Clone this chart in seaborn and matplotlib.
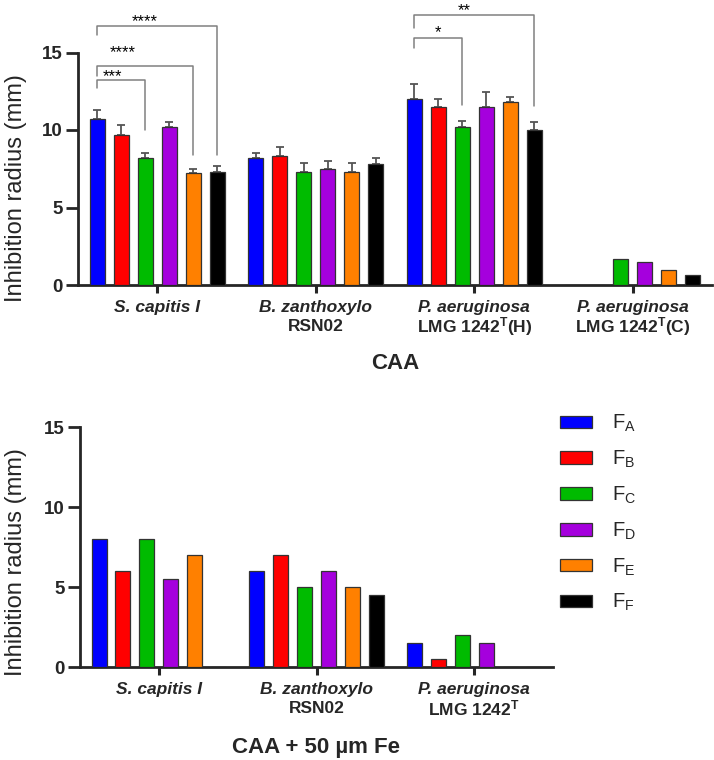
import numpy as np
import pandas as pd
import matplotlib
matplotlib.use("Agg")
import matplotlib.pyplot as plt
import seaborn as sns

# ---------------- data ----------------
formulations = ["F$_\\mathregular{A}$", "F$_\\mathregular{B}$", "F$_\\mathregular{C}$",
                "F$_\\mathregular{D}$", "F$_\\mathregular{E}$", "F$_\\mathregular{F}$"]
colors = ["#0000FF", "#FF0000", "#00BB00", "#A500DD", "#FF8000", "#000000"]

top_groups = ["S. capitis I", "B. zanthoxylo RSN02", "P. aeruginosa LMG 1242T(H)", "P. aeruginosa LMG 1242T(C)"]
top_line1 = ["S. capitis I", "B. zanthoxylo", "P. aeruginosa", "P. aeruginosa"]
top_line2 = ["", "RSN02", "LMG 1242$^\\mathbf{T}$(H)", "LMG 1242$^\\mathbf{T}$(C)"]
# values per group (FA..FF)
top_scap = [10.7, 9.7, 8.2, 10.2, 7.2, 7.3]
top_bzan = [8.2, 8.3, 7.3, 7.5, 7.3, 7.8]
top_paeh = [12.0, 11.5, 10.2, 11.5, 11.8, 10.0]
top_paec = [0.0, 0.0, 1.7, 1.5, 0.95, 0.65]
# upper error (SD)
err_scap = [0.6, 0.6, 0.3, 0.3, 0.3, 0.4]
err_bzan = [0.3, 0.6, 0.6, 0.5, 0.6, 0.4]
err_paeh = [0.95, 0.5, 0.35, 0.95, 0.35, 0.5]
err_paec = [0.0, 0.0, 0.0, 0.0, 0.0, 0.0]

bot_groups = ["S. capitis I", "B. zanthoxylo RSN02", "P. aeruginosa LMG 1242T"]
bot_line1 = ["S. capitis I", "B. zanthoxylo", "P. aeruginosa"]
bot_line2 = ["", "RSN02", "LMG 1242$^\\mathbf{T}$"]
bot_scap = [8.0, 6.0, 8.0, 5.5, 7.0, 0.0]
bot_bzan = [6.0, 7.0, 5.0, 6.0, 5.0, 4.5]
bot_pae = [1.5, 0.5, 2.0, 1.5, 0.0, 0.0]

# significance brackets: (group index, from bar, to bar, label, top y, left leg bottom, right leg bottom, text pos fraction, text y)
brackets = [
    (0, 0, 2, "***", 13.2, 12.7, 10.0, 0.32, 13.75),
    (0, 0, 4, "****", 14.1, 13.5, 8.4, 0.27, 15.3),
    (0, 0, 5, "****", 16.7, 16.1, 8.4, 0.40, 17.3),
    (2, 0, 2, "*", 15.95, 15.3, 11.6, 0.50, 16.6),
    (2, 0, 5, "**", 17.4, 16.6, 11.55, 0.42, 18.0),
]

# ---------------- style ----------------
sns.set_theme(style="ticks")
plt.rcParams["font.family"] = ["Liberation Sans", "DejaVu Sans"]
plt.rcParams["mathtext.fontset"] = "custom"
plt.rcParams["mathtext.rm"] = "Liberation Sans"
plt.rcParams["mathtext.bf"] = "Liberation Sans:bold"
plt.rcParams["mathtext.it"] = "Liberation Sans:italic"

fig = plt.figure(figsize=(7.14, 7.6), dpi=100)
ax1 = fig.add_axes([78 / 714, 1 - 285 / 760, 634 / 714, 285 / 760])
ax2 = fig.add_axes([80 / 714, 1 - 667 / 760, 473 / 714, 240 / 760])

pal = dict(zip(formulations, colors))


def long_df(groups, rows):
    recs = []
    for g, vals in zip(groups, rows):
        for f, v in zip(formulations, vals):
            recs.append({"group": g, "form": f, "value": v})
    return pd.DataFrame(recs)


df_top = long_df(top_groups, [top_scap, top_bzan, top_paeh, top_paec])
df_bot = long_df(bot_groups, [bot_scap, bot_bzan, bot_pae])
err_top = [err_scap, err_bzan, err_paeh, err_paec]

common = dict(x="group", y="value", hue="form", hue_order=formulations, palette=pal,
              width=0.91, gap=0.37, errorbar=None, edgecolor="#333333", linewidth=0.9,
              saturation=1)
sns.barplot(data=df_top, ax=ax1, order=top_groups, legend=False, zorder=3, **common)
sns.barplot(data=df_bot, ax=ax2, order=bot_groups, legend=True, zorder=3, **common)

# bar geometry from the drawn patches: patches ordered by hue level, then group
def bar_geom(ax, ngroups):
    pats = [p for p in ax.patches]
    centers = np.zeros((ngroups, len(formulations)))
    heights = np.zeros((ngroups, len(formulations)))
    for k, p in enumerate(pats[: ngroups * len(formulations)]):
        h = k // ngroups
        g = k % ngroups
        centers[g, h] = p.get_x() + p.get_width() / 2
        heights[g, h] = p.get_height()
    return centers, heights

c_top, h_top = bar_geom(ax1, len(top_groups))

# error bars (upper only)
xs, ys, es = [], [], []
for g in range(len(top_groups)):
    for h in range(len(formulations)):
        if err_top[g][h] > 0:
            xs.append(c_top[g, h]); ys.append(h_top[g, h]); es.append(err_top[g][h])
ax1.errorbar(xs, ys, yerr=[np.zeros(len(es)), es], fmt="none", ecolor="#555555",
             elinewidth=1.3, capsize=3.2, capthick=1.3, zorder=2)

# significance brackets
for g, a, b, lab, ytop, yl, yr, tf, ty in brackets:
    xa, xb = c_top[g, a], c_top[g, b]
    ax1.plot([xa, xa, xb, xb], [yl, ytop, ytop, yr], color="#808080", lw=1.1,
             clip_on=False, zorder=4)
    ax1.text(xa + tf * (xb - xa), ty - 0.3, lab, ha="center", va="center", fontsize=12,
             color="black", clip_on=False)

# axes styling
for ax, ng, line1, line2 in [(ax1, len(top_groups), top_line1, top_line2),
                             (ax2, len(bot_groups), bot_line1, bot_line2)]:
    ax.set_xlim(-0.5, ng - 0.5)
    ax.spines["top"].set_visible(False)
    ax.spines["right"].set_visible(False)
    ax.spines["left"].set_linewidth(2.0)
    ax.spines["bottom"].set_linewidth(2.0)
    ax.spines["left"].set_bounds(0, 15)
    ax.set_yticks([0, 5, 10, 15])
    ax.set_yticklabels(["0", "5", "10", "15"], fontsize=13.5, fontweight="bold")
    ax.tick_params(axis="y", length=9, width=2.0, pad=2)
    ax.tick_params(axis="x", length=6, width=2.2)
    ticks = ax.get_xticks()
    ax.set_xticklabels([""] * len(ticks))
    ax.set_xlabel("")
    for t, l1, l2 in zip(ticks, line1, line2):
        ax.annotate(l1, xy=(t, 0), xycoords=("data", "axes fraction"), xytext=(0, -16.5),
                    textcoords="offset points", ha="center", va="center",
                    fontsize=12.5, fontweight="bold", fontstyle="italic")
        if l2:
            ax.annotate(l2, xy=(t, 0), xycoords=("data", "axes fraction"), xytext=(0, -30),
                        textcoords="offset points", ha="center", va="center",
                        fontsize=12.5, fontweight="bold")

ax1.set_ylim(0, 285 / 15.5)
ax2.set_ylim(0, 15)

ax1.set_ylabel("Inhibition radius (mm)", fontsize=17)
ax1.yaxis.set_label_coords(-0.081, 0.34)
ax2.set_ylabel("Inhibition radius (mm)", fontsize=17)
ax2.yaxis.set_label_coords(-0.112, 0.4375)

fig.text((78 + 712) / 2 / 714, 1 - 364 / 760, "CAA", ha="center", va="center",
         fontsize=16, fontweight="bold")
fig.text((80 + 553) / 2 / 714, 1 - 747 / 760, "CAA + 50 \u00b5m Fe", ha="center", va="center",
         fontsize=16, fontweight="bold")

# legend
sns.move_legend(ax2, "upper left", bbox_to_anchor=(560 / 714, 1 - 413 / 760),
                bbox_transform=fig.transFigure, frameon=False, title=None,
                fontsize=14.5, handlelength=1.6, handleheight=0.6, handletextpad=1.0,
                labelspacing=0.72, borderpad=0, borderaxespad=0)

fig.savefig("out.png", dpi=100)
